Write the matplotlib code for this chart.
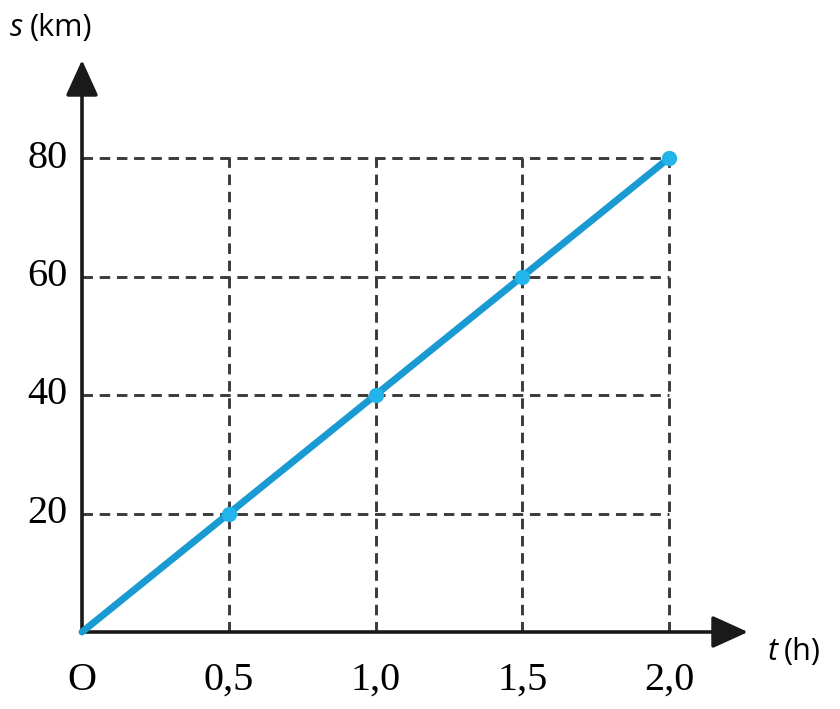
import matplotlib
matplotlib.use("Agg")
import matplotlib.pyplot as plt

# data
t_vals = [0.0, 0.5, 1.0, 1.5, 2.0]
s_vals = [0, 20, 40, 60, 80]
x_ticks = [0.5, 1.0, 1.5, 2.0]
x_labels = ["0,5", "1,0", "1,5", "2,0"]
y_ticks = [20, 40, 60, 80]
y_labels = ["20", "40", "60", "80"]

fig = plt.figure(figsize=(8.4, 7.09), dpi=100)
ax = fig.add_axes([82 / 840, 77 / 709, 666 / 840, 572 / 709])
xmax = 666 / 293.5
ymax = 572 / 118.5 * 20
ax.set_xlim(0, xmax)
ax.set_ylim(0, ymax)
ax.axis("off")

grid_col = "#3a3a3a"
ax.vlines(x_ticks, 0, 80, colors=grid_col, linestyles=(0, (3.6, 2.3)), linewidth=2.1)
ax.hlines(y_ticks, 0, 2.0, colors=grid_col, linestyles=(0, (3.6, 2.3)), linewidth=2.1)

# axes with arrows
arr = dict(arrowstyle="-|>,head_length=1.1,head_width=0.5", color="#1a1a1a",
           lw=2.6, shrinkA=0, shrinkB=0, mutation_scale=20)
ax.annotate("", xy=(xmax, 0), xytext=(0, 0), arrowprops=arr, annotation_clip=False)
ax.annotate("", xy=(0, ymax), xytext=(0, 0), arrowprops=arr, annotation_clip=False)

ax.plot(t_vals, s_vals, color="#1a9ad2", lw=5, solid_capstyle="round", clip_on=False, zorder=5)
ax.plot(t_vals[1:], s_vals[1:], "o", color="#22b4ea", ms=10, clip_on=False, zorder=6)

serif = "Liberation Serif"
for x, lab in zip(x_ticks, x_labels):
    ax.text(x, -8.2, lab, ha="center", va="center", fontsize=29, family=serif)
ax.text(0, -8.2, "O", ha="center", va="center", fontsize=29, family=serif)
for y, lab in zip(y_ticks, y_labels):
    ax.text(-0.05, y, lab, ha="right", va="center", fontsize=29, family=serif)

sans = "Open Sans"
fig.text(10 / 840, 1 - 28 / 709, "s", fontsize=22, style="italic", family=sans, va="center", ha="left")
fig.text(30 / 840, 1 - 28 / 709, "(km)", fontsize=22, family=sans, va="center", ha="left")
fig.text(768 / 840, 1 - 652 / 709, "t", fontsize=22, style="italic", family=sans, va="center", ha="left")
fig.text(784 / 840, 1 - 652 / 709, "(h)", fontsize=22, family=sans, va="center", ha="left")

fig.savefig("out.png", dpi=100, facecolor="white")
